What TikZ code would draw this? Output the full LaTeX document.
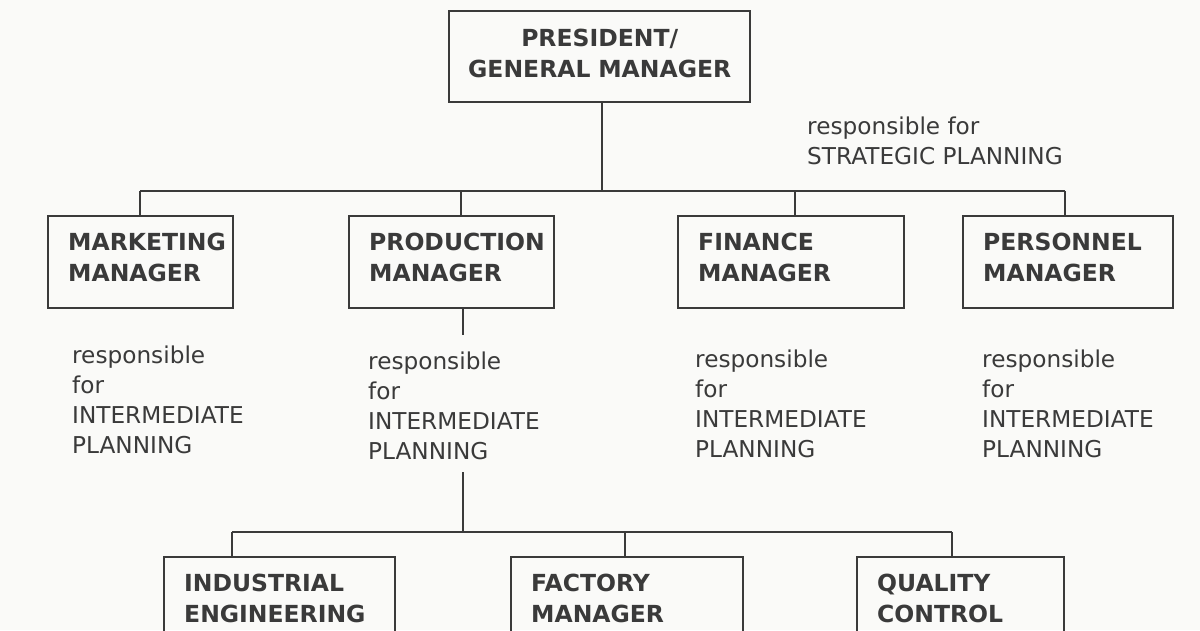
\documentclass[tikz,border=0pt]{standalone}
\usepackage{fontspec}
\setmainfont{DejaVu Sans}
\definecolor{ink}{HTML}{3A3A3A}
\definecolor{paper}{HTML}{FAFAF8}
\begin{document}
\begin{tikzpicture}[x=1pt,y=-1pt,
  box/.style={draw=ink, line width=2.4pt, text=ink,
    font=\bfseries\fontsize{23.5}{31}\selectfont,
    anchor=north west, align=left, inner ysep=0pt, inner xsep=20pt,
    minimum height=92pt, text depth=41pt},
  note/.style={text=ink, font=\fontsize{23.2}{30}\selectfont,
    anchor=north west, align=left, inner sep=0pt},
  link/.style={draw=ink, line width=2.4pt}]
\fill[paper] (0,0) rectangle (1200,630);
\clip (0,0) rectangle (1200,630);

% boxes
\node[box, align=center, inner xsep=5pt, text width=291pt, minimum height=91pt, text depth=38pt] (pres) at (448,10) {PRESIDENT/\\GENERAL MANAGER};
\node[box, text width=145pt] (mkt)  at (47,215)  {MARKETING\\MANAGER};
\node[box, text width=165pt] (prod) at (348,215) {PRODUCTION\\MANAGER};
\node[box, text width=186pt] (fin)  at (677,215) {FINANCE\\MANAGER};
\node[box, text width=170pt] (pers) at (962,215) {PERSONNEL\\MANAGER};
\node[box, text width=191pt] (ind)  at (163,556) {INDUSTRIAL\\ENGINEERING};
\node[box, text width=192pt] (fac)  at (510,556) {FACTORY\\MANAGER};
\node[box, text width=167pt] (qc)   at (856,556) {QUALITY\\CONTROL};

% notes
\node[note] (strat) at (807,117) {responsible for\\STRATEGIC PLANNING};
\node[note] (mktn)  at (72,346)  {responsible\\for\\INTERMEDIATE\\PLANNING};
\node[note] (prodn) at (368,352) {responsible\\for\\INTERMEDIATE\\PLANNING};
\node[note] (finn)  at (695,350) {responsible\\for\\INTERMEDIATE\\PLANNING};
\node[note] (persn) at (982,350) {responsible\\for\\INTERMEDIATE\\PLANNING};

% top level connectors
\coordinate (dtop) at (602,191);
\coordinate (dm) at (140,191);
\coordinate (dp) at (461,191);
\coordinate (df) at (795,191);
\coordinate (dr) at (1065,191);
\draw[link] (dtop |- pres.south) -- (dtop);
\draw[link] (dm) -- (dr);
\draw[link] (dm) -- (dm |- mkt.north);
\draw[link] (dp) -- (dp |- prod.north);
\draw[link] (df) -- (df |- fin.north);
\draw[link] (dr) -- (dr |- pers.north);

% production branch
\coordinate (pa) at (463,308);
\coordinate (pb) at (463,335);
\draw[link] (pa) -- (pb);
\coordinate (pc) at (463,472);
\coordinate (pbar) at (463,532);
\draw[link] (pc) -- (pbar);
\coordinate (bi) at (232,532);
\coordinate (bf) at (625,532);
\coordinate (bq) at (952,532);
\draw[link] (bi) -- (bq);
\draw[link] (bi) -- (bi |- ind.north);
\draw[link] (bf) -- (bf |- fac.north);
\draw[link] (bq) -- (bq |- qc.north);
\end{tikzpicture}
\end{document}
